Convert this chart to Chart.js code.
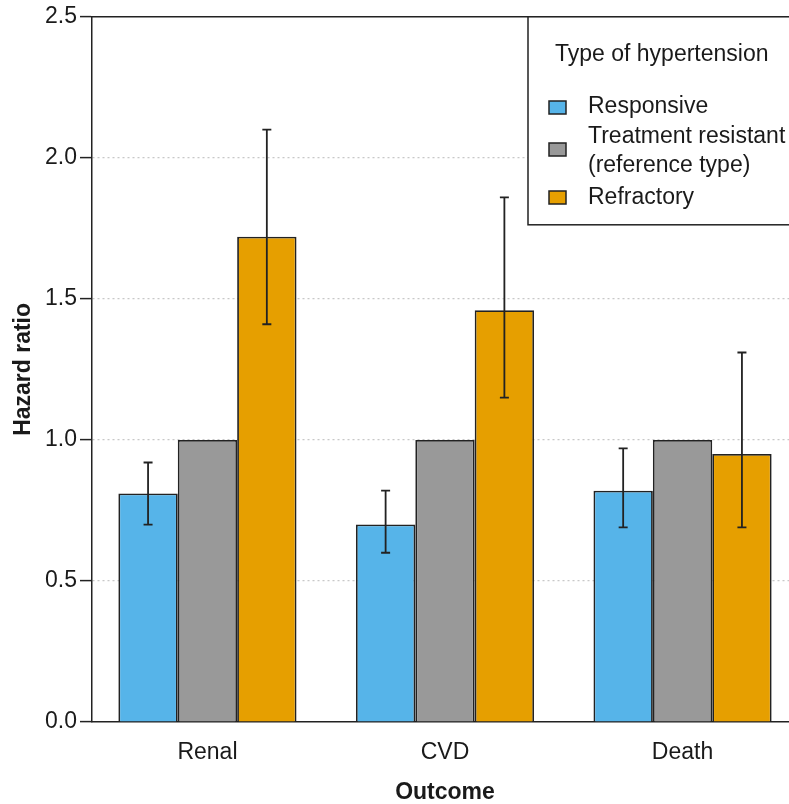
<!DOCTYPE html>
<html>
<head>
<meta charset="utf-8">
<script src="https://cdn.jsdelivr.net/npm/chart.js@4"></script>
<style>
  html, body { margin: 0; padding: 0; overflow: hidden; background: #fff; }
  canvas { display: block; }
</style>
</head>
<body>
<canvas id="myChart" width="800" height="804"></canvas>
<script>
// data
const categories = ['Renal', 'CVD', 'Death'];
const responsive = [0.81, 0.70, 0.82];
const resistant = [1.00, 1.00, 1.00];
const refractory = [1.72, 1.46, 0.95];
const responsiveLo = [0.70, 0.60, 0.69];
const responsiveHi = [0.92, 0.82, 0.97];
const refractoryLo = [1.41, 1.15, 0.69];
const refractoryHi = [2.10, 1.86, 1.31];
const yTicks = [0, 0.5, 1.0, 1.5, 2.0, 2.5];

const FONT = "'Liberation Sans', Arial, sans-serif";
const INK = '#1a1a1a';

function points(vals) {
  return vals.map((v, i) => ({ x: i + 1, y: v }));
}

const errorBars = {
  id: 'errorBars',
  afterDatasetsDraw(chart) {
    const ctx = chart.ctx;
    const y = chart.scales.y;
    chart.data.datasets.forEach((ds, di) => {
      if (!ds.lo) return;
      const meta = chart.getDatasetMeta(di);
      meta.data.forEach((bar, i) => {
        const top = y.getPixelForValue(ds.hi[i]);
        const bot = y.getPixelForValue(ds.lo[i]);
        ctx.save();
        ctx.strokeStyle = '#222';
        ctx.lineWidth = 1.8;
        ctx.beginPath();
        ctx.moveTo(bar.x, top); ctx.lineTo(bar.x, bot);
        ctx.moveTo(bar.x - 4.5, top); ctx.lineTo(bar.x + 4.5, top);
        ctx.moveTo(bar.x - 4.5, bot); ctx.lineTo(bar.x + 4.5, bot);
        ctx.stroke();
        ctx.restore();
      });
    });
  }
};

// top / right frame and legend box
const frameLegend = {
  id: 'frameLegend',
  afterDraw(chart) {
    const ctx = chart.ctx;
    const a = chart.chartArea;
    ctx.save();
    ctx.strokeStyle = '#222';
    ctx.lineWidth = 1.5;
    ctx.beginPath();
    ctx.moveTo(a.left, a.top); ctx.lineTo(a.right, a.top); ctx.lineTo(a.right, a.bottom);
    ctx.stroke();

    // legend
    const bx = 528, by = a.top, bw = a.right - 528, bh = 208;
    ctx.fillStyle = '#fff';
    ctx.fillRect(bx, by, bw, bh);
    ctx.strokeRect(bx, by, bw, bh);
    ctx.fillStyle = INK;
    ctx.font = '23px ' + FONT;
    ctx.textBaseline = 'alphabetic';
    ctx.textAlign = 'left';
    ctx.fillText('Type of hypertension', 555, 61);

    const rows = [
      { lines: ['Responsive'], base: 113, sw: 101 },
      { lines: ['Treatment resistant', '(reference type)'], base: 143, sw: 143 },
      { lines: ['Refractory'], base: 204, sw: 191 }
    ];
    chart.data.datasets.forEach((ds, i) => {
      const r = rows[i];
      ctx.fillStyle = ds.backgroundColor;
      ctx.fillRect(549, r.sw, 17, 13);
      ctx.lineWidth = 1.5;
      ctx.strokeStyle = '#222';
      ctx.strokeRect(549, r.sw, 17, 13);
      ctx.fillStyle = INK;
      r.lines.forEach((t, k) => ctx.fillText(t, 588, r.base + k * 29));
    });
    ctx.restore();
  }
};

const ctx = document.getElementById('myChart');

new Chart(ctx, {
  type: 'bar',
  data: {
    datasets: [{
      label: 'Responsive',
      data: points(responsive),
      lo: responsiveLo,
      hi: responsiveHi,
      backgroundColor: '#56B4E9',
      borderColor: '#222',
      borderWidth: 1.8
    }, {
      label: 'Treatment resistant (reference type)',
      data: points(resistant),
      backgroundColor: '#999999',
      borderColor: '#222',
      borderWidth: 1.8
    }, {
      label: 'Refractory',
      data: points(refractory),
      lo: refractoryLo,
      hi: refractoryHi,
      backgroundColor: '#E69F00',
      borderColor: '#222',
      borderWidth: 1.8
    }]
  },
  options: {
    responsive: false,
    animation: false,
    devicePixelRatio: 1,
    categoryPercentage: 0.75,
    barPercentage: 1.0,
    layout: { padding: { left: 0, top: 15, right: 2, bottom: 0 } },
    plugins: {
      legend: { display: false },
      tooltip: { enabled: false }
    },
    scales: {
      x: {
        type: 'linear',
        offset: false,
        min: 0.514,
        max: 3.486,
        grid: { display: false, drawTicks: false, offset: false },
        border: { display: true, color: '#222', width: 1.5 },
        ticks: {
          stepSize: 1,
          includeBounds: false,
          autoSkip: false,
          maxRotation: 0,
          padding: 17,
          color: INK,
          font: { family: FONT, size: 23 },
          callback: (v) => Number.isInteger(v) ? (categories[v - 1] || '') : ''
        },
        title: {
          display: true,
          text: 'Outcome',
          color: INK,
          font: { family: FONT, size: 23, weight: 'bold', lineHeight: 1 },
          padding: 0
        },
        afterFit: (s) => { s.height = 82; }
      },
      y: {
        min: 0,
        max: 2.5,
        afterBuildTicks: (s) => { s.ticks = yTicks.map(v => ({ value: v })); },
        grid: {
          color: (c) => (c.tick && c.tick.value > 0 && c.tick.value < 2.5) ? '#c8c8c8' : 'rgba(0,0,0,0)',
          lineWidth: 1.2,
          tickColor: '#222',
          tickWidth: 1.5,
          tickLength: 12,
          tickBorderDash: []
        },
        border: { display: true, color: '#222', width: 1.5, dash: [2, 3] },
        ticks: {
          padding: 3,
          color: INK,
          font: { family: FONT, size: 23 },
          callback: (v) => Number(v).toFixed(1)
        },
        title: {
          display: true,
          text: 'Hazard ratio',
          color: INK,
          font: { family: FONT, size: 23, weight: 'bold', lineHeight: 1.2 },
          padding: { top: 10, bottom: 0 }
        },
        afterFit: (s) => { s.width = 92; }
      }
    }
  },
  plugins: [errorBars, frameLegend]
});
</script>
</body>
</html>
